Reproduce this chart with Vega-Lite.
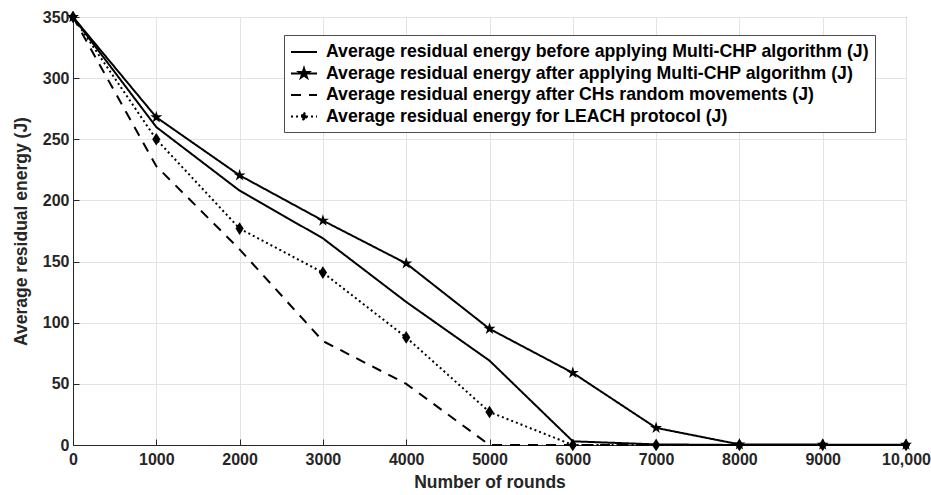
{
  "$schema": "https://vega.github.io/schema/vega-lite/v6.json",
  "width": 833,
  "height": 428,
  "autosize": {"type": "none"},
  "padding": {"left": 73, "top": 17, "right": 25, "bottom": 50},
  "background": "white",
  "config": {
    "view": {"stroke": "#262626", "strokeWidth": 1},
    "font": "Liberation Sans",
    "axis": {
      "labelFont": "Liberation Sans", "labelFontWeight": "bold", "labelFontSize": 16, "labelColor": "#262626",
      "titleFont": "Liberation Sans", "titleFontWeight": "bold", "titleFontSize": 17.5, "titleColor": "#262626",
      "domainColor": "#262626", "tickColor": "#262626", "gridColor": "#e3e3e3", "gridWidth": 1,
      "tickSize": -6, "labelPadding": 12
    },
    "legend": {
      "labelFont": "Liberation Sans", "labelFontWeight": "bold", "labelFontSize": 17.7, "labelColor": "#000000",
      "labelLimit": 1000
    }
  },
  "data": {
    "values": [
      {"r": 0, "s": "Average residual energy before applying Multi-CHP algorithm (J)", "e": 350},
      {"r": 1000, "s": "Average residual energy before applying Multi-CHP algorithm (J)", "e": 260},
      {"r": 2000, "s": "Average residual energy before applying Multi-CHP algorithm (J)", "e": 208},
      {"r": 3000, "s": "Average residual energy before applying Multi-CHP algorithm (J)", "e": 169},
      {"r": 4000, "s": "Average residual energy before applying Multi-CHP algorithm (J)", "e": 117},
      {"r": 5000, "s": "Average residual energy before applying Multi-CHP algorithm (J)", "e": 69},
      {"r": 6000, "s": "Average residual energy before applying Multi-CHP algorithm (J)", "e": 3},
      {"r": 7000, "s": "Average residual energy before applying Multi-CHP algorithm (J)", "e": 0.5},
      {"r": 8000, "s": "Average residual energy before applying Multi-CHP algorithm (J)", "e": 0},
      {"r": 9000, "s": "Average residual energy before applying Multi-CHP algorithm (J)", "e": 0},
      {"r": 10000, "s": "Average residual energy before applying Multi-CHP algorithm (J)", "e": 0},
      {"r": 0, "s": "Average residual energy after applying Multi-CHP algorithm (J)", "e": 350},
      {"r": 1000, "s": "Average residual energy after applying Multi-CHP algorithm (J)", "e": 268},
      {"r": 2000, "s": "Average residual energy after applying Multi-CHP algorithm (J)", "e": 220.5},
      {"r": 3000, "s": "Average residual energy after applying Multi-CHP algorithm (J)", "e": 183.5},
      {"r": 4000, "s": "Average residual energy after applying Multi-CHP algorithm (J)", "e": 148.5},
      {"r": 5000, "s": "Average residual energy after applying Multi-CHP algorithm (J)", "e": 95},
      {"r": 6000, "s": "Average residual energy after applying Multi-CHP algorithm (J)", "e": 59},
      {"r": 7000, "s": "Average residual energy after applying Multi-CHP algorithm (J)", "e": 14},
      {"r": 8000, "s": "Average residual energy after applying Multi-CHP algorithm (J)", "e": 0.5},
      {"r": 9000, "s": "Average residual energy after applying Multi-CHP algorithm (J)", "e": 0.3},
      {"r": 10000, "s": "Average residual energy after applying Multi-CHP algorithm (J)", "e": 0.2},
      {"r": 0, "s": "Average residual energy after CHs random movements (J)", "e": 350},
      {"r": 1000, "s": "Average residual energy after CHs random movements (J)", "e": 228},
      {"r": 2000, "s": "Average residual energy after CHs random movements (J)", "e": 160},
      {"r": 3000, "s": "Average residual energy after CHs random movements (J)", "e": 85},
      {"r": 4000, "s": "Average residual energy after CHs random movements (J)", "e": 50},
      {"r": 5000, "s": "Average residual energy after CHs random movements (J)", "e": 0},
      {"r": 6000, "s": "Average residual energy after CHs random movements (J)", "e": 0},
      {"r": 7000, "s": "Average residual energy after CHs random movements (J)", "e": 0},
      {"r": 8000, "s": "Average residual energy after CHs random movements (J)", "e": 0},
      {"r": 9000, "s": "Average residual energy after CHs random movements (J)", "e": 0},
      {"r": 10000, "s": "Average residual energy after CHs random movements (J)", "e": 0},
      {"r": 0, "s": "Average residual energy for LEACH protocol (J)", "e": 350},
      {"r": 1000, "s": "Average residual energy for LEACH protocol (J)", "e": 250},
      {"r": 2000, "s": "Average residual energy for LEACH protocol (J)", "e": 177},
      {"r": 3000, "s": "Average residual energy for LEACH protocol (J)", "e": 141},
      {"r": 4000, "s": "Average residual energy for LEACH protocol (J)", "e": 88},
      {"r": 5000, "s": "Average residual energy for LEACH protocol (J)", "e": 27},
      {"r": 6000, "s": "Average residual energy for LEACH protocol (J)", "e": 0},
      {"r": 7000, "s": "Average residual energy for LEACH protocol (J)", "e": 0},
      {"r": 8000, "s": "Average residual energy for LEACH protocol (J)", "e": 0},
      {"r": 9000, "s": "Average residual energy for LEACH protocol (J)", "e": 0},
      {"r": 10000, "s": "Average residual energy for LEACH protocol (J)", "e": 0}
    ]
  },
  "encoding": {
    "x": {
      "field": "r", "type": "quantitative", "title": "Number of rounds",
      "scale": {"domain": [0, 10000], "nice": false},
      "axis": {"values": [0, 1000, 2000, 3000, 4000, 5000, 6000, 7000, 8000, 9000, 10000],
               "labelExpr": "datum.value == 10000 ? '10,000' : '' + datum.value", "titlePadding": 6, "labelFlush": false}
    },
    "y": {
      "field": "e", "type": "quantitative", "title": "Average residual energy (J)",
      "scale": {"domain": [0, 350], "nice": false},
      "axis": {"values": [0, 50, 100, 150, 200, 250, 300, 350], "titlePadding": 12, "labelPadding": 10}
    }
  },
  "layer": [
    {
      "mark": {"type": "line", "color": "#000000", "strokeWidth": 2},
      "encoding": {
        "detail": {"field": "s"},
        "strokeDash": {
          "field": "s", "type": "nominal",
          "scale": {
            "domain": [
              "Average residual energy before applying Multi-CHP algorithm (J)",
              "Average residual energy after applying Multi-CHP algorithm (J)",
              "Average residual energy after CHs random movements (J)",
              "Average residual energy for LEACH protocol (J)"
            ],
            "range": [[1, 0], [1, 0], [10, 8], [2, 3]]
          },
          "legend": {
            "title": null,
            "orient": "none",
            "legendX": 211,
            "legendY": 18,
            "padding": 6,
            "fillColor": "#ffffff",
            "strokeColor": "#4d4d4d",
            "symbolSize": 400,
            "symbolStrokeWidth": 2,
            "symbolStrokeColor": "#000000",
            "symbolFillColor": "#000000",
            "symbolOffset": 3,
            "labelOffset": 11,
            "rowPadding": 1.5,
            "encode": {
              "symbols": {
                "update": {
                  "shape": {"signal": "datum.index == 1 ? 'M-1.3,0L1.3,0M0,-0.52L0.117,-0.161L0.495,-0.161L0.189,0.061L0.306,0.421L0,0.199L-0.306,0.421L-0.189,0.061L-0.495,-0.161L-0.117,-0.161Z' : datum.index == 3 ? 'M-1.3,0L1.3,0M0,-0.4L0.27,0L0,0.4L-0.27,0Z' : 'M-1.3,0L1.3,0'"},
                  "fill": {"value": "#000000"},
                  "stroke": {"value": "#000000"},
                  "strokeWidth": {"value": 2},
                  "opacity": {"value": 1}
                }
              }
            }
          }
        }
      }
    },
    {
      "transform": [{"filter": "indexof(datum.s, 'after applying') >= 0 || indexof(datum.s, 'LEACH') >= 0"}],
      "mark": {"type": "point", "filled": true, "color": "#000000", "opacity": 1},
      "encoding": {
        "shape": {
          "field": "s", "type": "nominal",
          "scale": {
            "domain": ["Average residual energy after applying Multi-CHP algorithm (J)", "Average residual energy for LEACH protocol (J)"],
            "range": [
              "M0,-1L0.225,-0.309L0.951,-0.309L0.363,0.118L0.588,0.809L0,0.382L-0.588,0.809L-0.363,0.118L-0.951,-0.309L-0.225,-0.309Z",
              "M0,-1L0.65,0L0,1L-0.65,0Z"
            ]
          },
          "legend": null
        },
        "size": {"value": 160}
      }
    }
  ]
}
